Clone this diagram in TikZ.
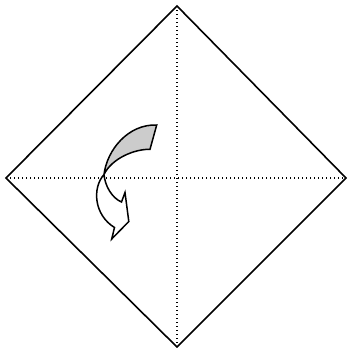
\documentclass[tikz,border=0pt]{standalone}
\usepackage{tikz}
\usetikzlibrary{calc}
\tikzset{fold/.style={black, line width=1.6pt, line join=miter},
  crease/.style={black, line width=1.1pt, dash pattern=on 1.1pt off 2.9pt},
  flap/.style={black, line width=1.5pt, line join=miter}}

\begin{document}
\begin{tikzpicture} [x=1pt, y=-1pt]
\useasboundingbox (0,0) rectangle (347,348);
\coordinate (top) at (177,6);
\coordinate (left) at (6,178);
\coordinate (right) at (346,178);
\coordinate (bottom) at (177,347);
\draw[crease] (top)--(bottom);
\draw[crease] (left)--(right);
\draw[fold] (top)--(right)--(bottom)--(left)--cycle;

% arrow: white back side, then grey front side
\coordinate (twist) at (104,174.5);
\draw[flap, fill=white] (twist) .. controls (92,188) and (94,215) .. (114.5,227.5)
  -- (111.7,239) -- (128.8,221.5) -- (125,192.5) -- (121.5,202)
  .. controls (112,198) and (105,186) .. (twist);
\draw[flap, fill=black!20] (twist) .. controls (107,150) and (128,124) .. (156.7,125)
  -- (150,149.3) .. controls (135,149) and (112,158) .. (twist);
\end{tikzpicture}
\end{document}
